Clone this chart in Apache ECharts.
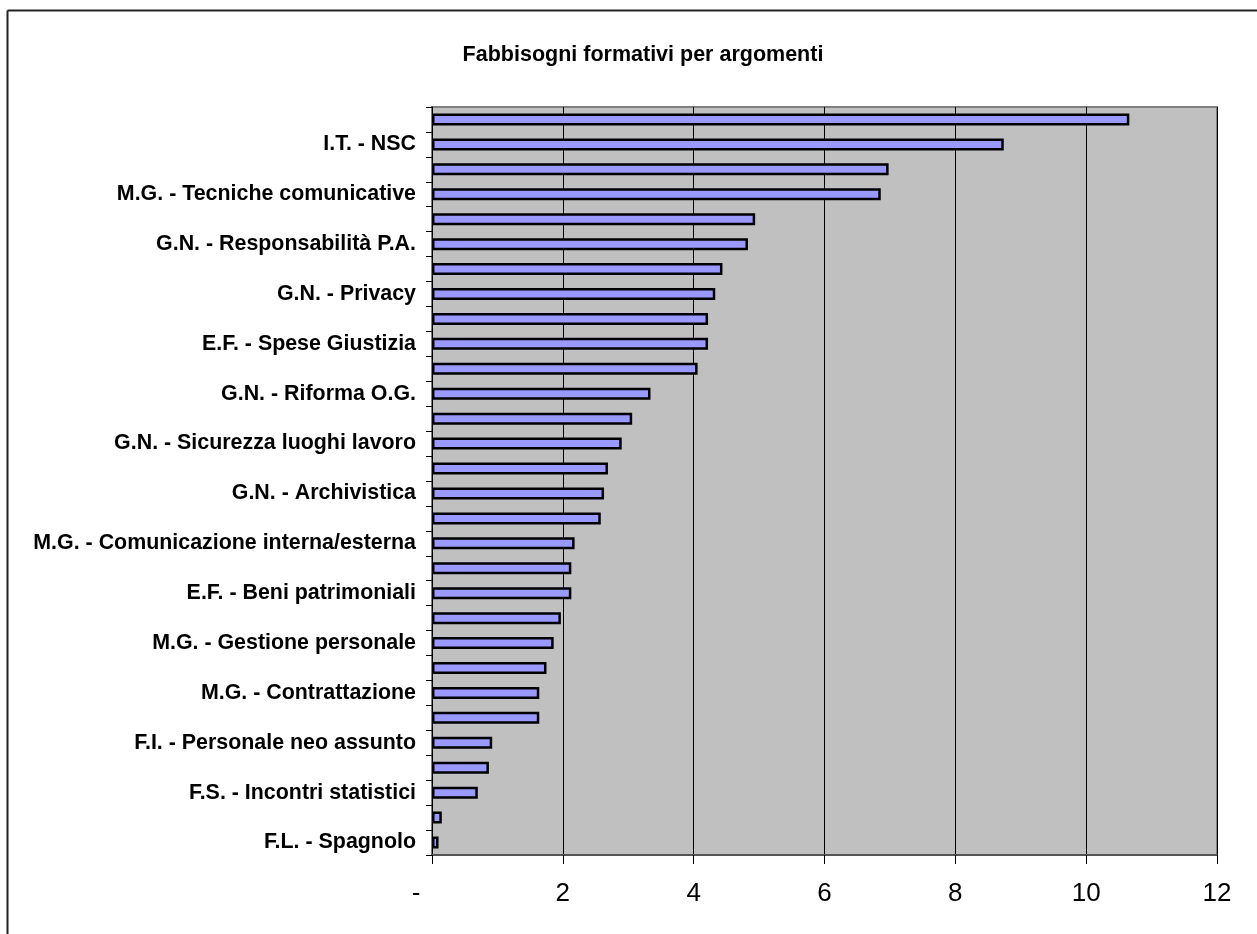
<!DOCTYPE html>
<html>
<head>
<meta charset="utf-8">
<script src="https://cdn.jsdelivr.net/npm/echarts@6/dist/echarts.min.js"></script>
<style>
html,body{margin:0;padding:0;background:#fff;}
#chart{width:1257px;height:934px;}
</style>
</head>
<body>
<div id="chart"></div>
<script>
// Categories top to bottom (only every other label is readable in the reference)
var categories = [
  "", "I.T. - NSC",
  "", "M.G. - Tecniche comunicative",
  "", "G.N. - Responsabilità P.A.",
  "", "G.N. - Privacy",
  "", "E.F. - Spese Giustizia",
  "", "G.N. - Riforma O.G.",
  "", "G.N. - Sicurezza luoghi lavoro",
  "", "G.N. - Archivistica",
  "", "M.G. - Comunicazione interna/esterna",
  "", "E.F. - Beni patrimoniali",
  "", "M.G. - Gestione personale",
  "", "M.G. - Contrattazione",
  "", "F.I. - Personale neo assunto",
  "", "F.S. - Incontri statistici",
  "", "F.L. - Spagnolo"
];
var values = [
  10.66, 8.74, 6.98, 6.86, 4.94, 4.83, 4.44, 4.33, 4.22, 4.22,
  4.06, 3.34, 3.06, 2.90, 2.69, 2.63, 2.58, 2.18, 2.13, 2.13,
  1.97, 1.86, 1.75, 1.64, 1.64, 0.92, 0.87, 0.70, 0.15, 0.10
];
var xTicks = [0, 2, 4, 6, 8, 10, 12];
var titleText = "Fabbisogni formativi per argomenti";

var chart = echarts.init(document.getElementById('chart'));
var font = "'Liberation Sans', Arial, Helvetica, sans-serif";
chart.setOption({
  animation: false,
  backgroundColor: '#ffffff',
  title: {
    text: titleText,
    left: 638,
    top: 39,
    textAlign: 'center',
    textStyle: { fontFamily: font, fontWeight: 'bold', fontSize: 21.5, color: '#000' }
  },
  graphic: [
    { type: 'line', shape: { x1: 7.5, y1: 10.5, x2: 1257, y2: 10.5 }, style: { stroke: '#222', lineWidth: 2 } },
    { type: 'line', shape: { x1: 7.5, y1: 10.5, x2: 7.5, y2: 934 }, style: { stroke: '#222', lineWidth: 2 } }
  ],
  grid: {
    left: 432, right: 40, top: 107, bottom: 79,
    show: true, backgroundColor: '#C0C0C0', borderColor: '#808080', borderWidth: 2
  },
  xAxis: {
    type: 'value', min: xTicks[0], max: xTicks[xTicks.length - 1], interval: 2,
    axisLine: { show: true, lineStyle: { color: '#555', width: 2 } },
    axisTick: { show: true, length: 9, lineStyle: { color: '#000', width: 1 } },
    splitLine: { show: true, lineStyle: { color: '#000', width: 1 } },
    axisLabel: {
      margin: 26, color: '#000', fontFamily: font, fontSize: 26,
      formatter: function (v) { return v === 0 ? '{z|-}' : String(v); },
      rich: { z: { fontFamily: font, fontSize: 26, color: '#000', padding: [0, 32, 0, 0] } }
    }
  },
  yAxis: {
    type: 'category', inverse: true, data: categories,
    axisLine: { show: true, lineStyle: { color: '#000', width: 1 } },
    axisTick: { show: true, length: 6, interval: 0, lineStyle: { color: '#000', width: 1 } },
    axisLabel: { interval: 0, margin: 16, color: '#000', fontFamily: font, fontWeight: 'bold', fontSize: 21.4 },
    splitLine: { show: false }
  },
  series: [{
    type: 'bar',
    data: values,
    barWidth: 12,
    itemStyle: { color: '#9999FF', borderColor: '#000', borderWidth: 2.5 }
  }]
});
</script>
</body>
</html>
